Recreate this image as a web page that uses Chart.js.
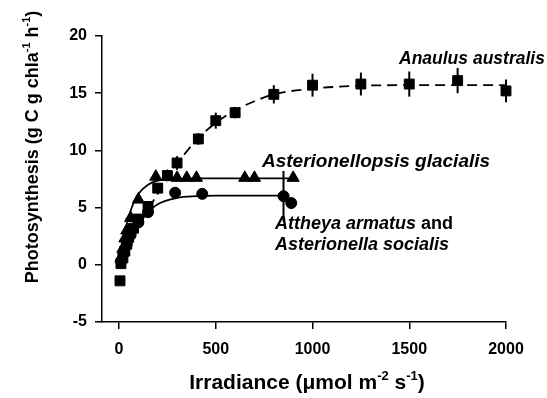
<!DOCTYPE html>
<html>
<head>
<meta charset="utf-8">
<script src="https://cdn.jsdelivr.net/npm/chart.js@4.4.1/dist/chart.umd.min.js"></script>
<style>
    html, body { margin: 0; padding: 0; background: #fff; }
</style>
</head>
<body>
<canvas id="chart" width="547" height="398"></canvas>
<script>
// ===== P-E CURVES — three diatom species =====

// Anaulus australis (squares)
const sqX   = [5, 10, 20, 30, 40, 50, 75, 100, 150, 200, 250, 300, 410, 500, 600, 800, 1000, 1250, 1500, 1750, 2000];
const sqY   = [-1.4, 0.1, 0.6, 1.2, 1.8, 2.4, 3.2, 4.0, 5.1, 6.7, 7.8, 8.9, 11.0, 12.6, 13.3, 14.9, 15.7, 15.8, 15.8, 16.1, 15.2];
const sqErr = [0, 0, 0, 0, 0, 0, 0, 0, 0, 0, 0.5, 0.6, 0.5, 0.7, 0.5, 0.8, 1.0, 1.0, 1.1, 1.1, 1.0];
const sqFitX = [0, 50, 100, 150, 200, 300, 400, 500, 600, 700, 800, 1000, 1250, 1500, 1750, 2000];
const sqFitY = [0, 1.7, 3.3, 4.8, 6.2, 8.8, 10.9, 12.4, 13.5, 14.3, 14.9, 15.4, 15.65, 15.7, 15.7, 15.7];

// Asterionellopsis glacialis (triangles)
const triX = [10, 20, 30, 40, 60, 100, 190, 250, 300, 350, 400, 650, 700, 900];
const triY = [0.6, 1.4, 2.3, 3.0, 4.1, 5.7, 7.7, 7.7, 7.6, 7.6, 7.6, 7.6, 7.6, 7.6];
const triFitX = [0, 25, 50, 75, 100, 150, 200, 300, 400, 900];
const triFitY = [0, 2.5, 4.2, 5.4, 6.2, 7.0, 7.35, 7.5, 7.55, 7.55];

// Attheya armatus and Asterionella socialis (circles)
const cirX   = [10, 25, 40, 60, 100, 150, 290, 430, 850, 890];
const cirY   = [0.3, 1.0, 1.8, 2.6, 3.7, 4.6, 6.3, 6.2, 6.0, 5.4];
const cirErr = [0, 0, 0, 0, 0, 0, 0, 0, 2.2, 0];
const cirFitX = [0, 50, 100, 150, 200, 300, 400, 500, 880];
const cirFitY = [0, 2.1, 3.6, 4.6, 5.3, 5.85, 6.0, 6.05, 6.05];

const xTicks = [0, 500, 1000, 1500, 2000];

const pts = (xs, ys) => xs.map((x, i) => ({ x, y: ys[i] }));
const FONT = '"Liberation Sans", Arial, sans-serif';

// Vertical error bars, drawn through the chart scales
const errorBars = {
    id: 'errorBars',
    afterDatasetsDraw(chart) {
        const { ctx, scales: { x, y } } = chart;
        ctx.save();
        ctx.strokeStyle = '#000';
        ctx.lineWidth = 2;
        [[sqX, sqY, sqErr], [cirX, cirY, cirErr]].forEach(([xs, ys, es]) => {
            xs.forEach((v, i) => {
                if (!es[i]) return;
                const px = x.getPixelForValue(v);
                ctx.beginPath();
                ctx.moveTo(px, y.getPixelForValue(ys[i] - es[i]));
                ctx.lineTo(px, y.getPixelForValue(ys[i] + es[i]));
                ctx.stroke();
            });
        });
        ctx.restore();
    }
};

// text with superscripts, centred on x
function supText(ctx, parts, x, y, size) {
    const fontFor = s => `bold ${s ? Math.round(size * 0.62) : size}px ${FONT}`;
    let w = 0;
    parts.forEach(([t, s]) => { ctx.font = fontFor(s); w += ctx.measureText(t).width; });
    let cx = x - w / 2;
    parts.forEach(([t, s]) => {
        ctx.font = fontFor(s);
        ctx.fillText(t, cx, s ? y - size * 0.45 : y);
        cx += ctx.measureText(t).width;
    });
}

// Axis titles and species labels
const annotations = {
    id: 'annotations',
    afterDraw(chart) {
        const ctx = chart.ctx;
        ctx.save();
        ctx.fillStyle = '#000';
        ctx.textBaseline = 'alphabetic';
        ctx.textAlign = 'left';

        supText(ctx, [['Irradiance (\u03bcmol m', false], ['-2', true], [' s', false], ['-1', true], [')', false]], 307, 389, 21);

        ctx.save();
        ctx.translate(38, 147);
        ctx.rotate(-Math.PI / 2);
        supText(ctx, [['Photosynthesis (g C g chla', false], ['-1', true], [' h', false], ['-1', true], [')', false]], 0, 0, 18);
        ctx.restore();

        const bi = `italic bold 18px ${FONT}`;
        ctx.font = `italic bold 17.5px ${FONT}`;
        ctx.fillText('Anaulus australis', 399, 64);
        ctx.font = `italic bold 19px ${FONT}`;
        ctx.fillText('Asterionellopsis glacialis', 262, 167);
        ctx.font = bi;
        ctx.fillText('Attheya armatus', 275, 229);
        const w = ctx.measureText('Attheya armatus ').width;
        ctx.font = `bold 18px ${FONT}`;
        ctx.fillText('and', 275 + w, 229);
        ctx.font = bi;
        ctx.fillText('Asterionella socialis', 275, 250);
        ctx.restore();
    }
};

const tickFont = { family: FONT, size: 16, weight: 'bold' };

new Chart(document.getElementById('chart').getContext('2d'), {
    type: 'scatter',
    data: {
        datasets: [
            { data: pts(sqX, sqY), pointStyle: 'rect', pointRadius: 7, backgroundColor: '#000', borderColor: '#000', order: 1 },
            { data: pts(triX, triY), pointStyle: 'triangle', pointRadius: 7, backgroundColor: '#000', borderColor: '#000', order: 1 },
            { data: pts(cirX, cirY), pointStyle: 'circle', pointRadius: 5.5, backgroundColor: '#000', borderColor: '#000', order: 1 },
            { data: pts(sqFitX, sqFitY), showLine: true, pointRadius: 0, borderColor: '#000', borderWidth: 1.8,
              borderDash: [10, 6], cubicInterpolationMode: 'monotone', order: 2 },
            { data: pts(triFitX, triFitY), showLine: true, pointRadius: 0, borderColor: '#000', borderWidth: 1.8,
              cubicInterpolationMode: 'monotone', order: 2 },
            { data: pts(cirFitX, cirFitY), showLine: true, pointRadius: 0, borderColor: '#000', borderWidth: 1.8,
              cubicInterpolationMode: 'monotone', order: 2 }
        ]
    },
    options: {
        responsive: false,
        animation: false,
        clip: false,
        layout: { padding: { top: 36, right: 41, left: 0, bottom: 0 } },
        plugins: { legend: { display: false }, tooltip: { enabled: false } },
        scales: {
            x: {
                type: 'linear',
                min: -88,
                max: 2000,
                afterBuildTicks: axis => { axis.ticks = xTicks.map(v => ({ value: v })); },
                afterFit: s => { s.height = 76; },
                ticks: { color: '#000', font: tickFont, padding: 11, maxRotation: 0, callback: v => String(v) },
                grid: { drawOnChartArea: false, color: '#000', lineWidth: 1.5, tickLength: 7 },
                border: { color: '#000', width: 1.5 }
            },
            y: {
                min: -5,
                max: 20,
                ticks: { stepSize: 5, color: '#000', font: tickFont, padding: 8 },
                afterFit: s => { s.width = 102; },
                grid: { drawOnChartArea: false, color: '#000', lineWidth: 1.5, tickLength: 7 },
                border: { color: '#000', width: 1.5 }
            }
        }
    },
    plugins: [errorBars, annotations]
});
</script>
</body>
</html>
